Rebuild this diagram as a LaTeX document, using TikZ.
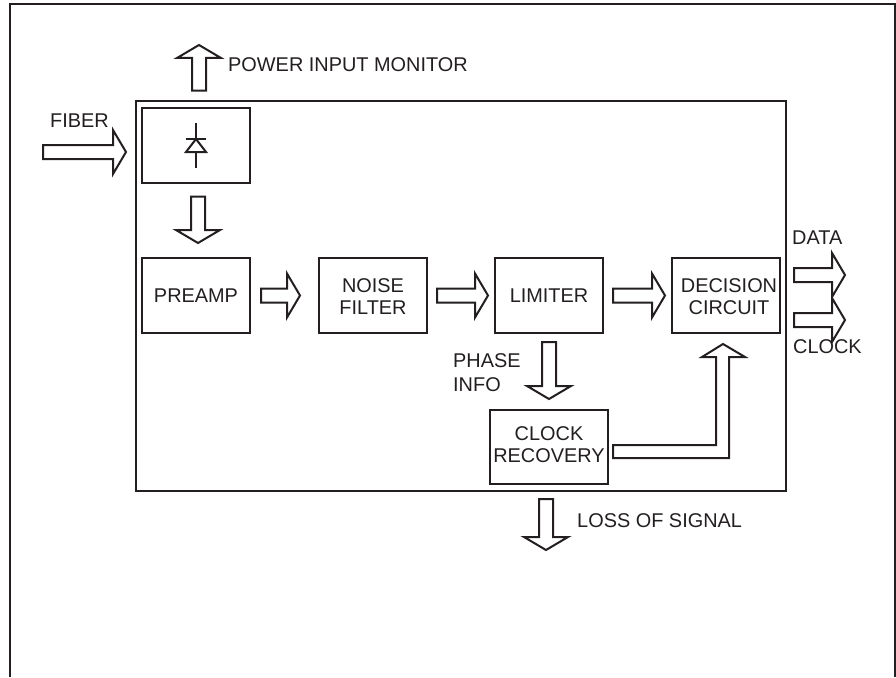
\documentclass[tikz,border=0pt]{standalone}
\usepackage{fontspec}
\setmainfont{Liberation Sans}
\usetikzlibrary{calc}
\definecolor{ink}{HTML}{231F20}
\tikzset{
    block/.style={draw=ink, line width=2pt, minimum width=108pt, minimum height=75pt, inner sep=0pt, outer sep=0pt, align=center, text=ink, font=\fontsize{19.9}{22}\selectfont},
    block text/.style={inner sep=0pt, align=center, text=ink, font=\fontsize{19.9}{22}\selectfont},
    label text/.style={anchor=base west, inner sep=0pt, text=ink, align=left, font=\fontsize{19.9}{23.5}\selectfont},
    outline/.style={draw=ink, line width=2pt, line join=miter},
    hollow/.style={outline, to path={
        let \p3=($(\tikztotarget)!13pt!(\tikztostart)$) in
        ($(\tikztostart)!7pt!90:(\tikztotarget)$) -- ($(\p3)!7pt!90:(\tikztotarget)$) -- ($(\p3)!22pt!90:(\tikztotarget)$) -- (\tikztotarget) -- ($(\p3)!22pt!-90:(\tikztotarget)$) -- ($(\p3)!7pt!-90:(\tikztotarget)$) -- ($(\tikztostart)!7pt!-90:(\tikztotarget)$) -- cycle}},
}
\begin{document}
\begin{tikzpicture}[x=1pt, y=-1pt]
    \useasboundingbox (0,0) rectangle (896,677);
    % frame, open at the bottom
    \draw[outline] (9.5,677) -- (9.5,4) -- (894.5,4) -- (894.5,677);
    \node[block, minimum width=650pt, minimum height=390pt] (main) at (461,296) {};
    \node[block] (diode) at (196,145) {};
    \node[block] (preamp) at (196,295.5) {PREAMP};
    \node[block] (filter) at (373,295.5) {};
    \node[block] (limiter) at (549,295.5) {LIMITER};
    \node[block] (decision) at (726,295.5) {};
    \node[block, minimum width=118pt, minimum height=74pt] (recovery) at (549,447) {};
    \node[block text] (filtertext) at ([shift={(0,1)}]filter.center) {NOISE\\FILTER};
    \node[block text] (decisiontext) at ([shift={(3,1)}]decision.center) {DECISION\\CIRCUIT};
    \node[block text] (recoverytext) at ([shift={(0,-2)}]recovery.center) {CLOCK\\RECOVERY};
    % diode symbol
    \draw[outline] ([shift={(0,-22)}]diode.center) -- ([shift={(0,-6)}]diode.center);
    \draw[outline] ([shift={(0,7)}]diode.center) -- ([shift={(0,23)}]diode.center);
    \draw[outline] ([shift={(-10,-6)}]diode.center) -- ([shift={(10,-6)}]diode.center);
    \draw[outline] ([shift={(0,-6)}]diode.center) -- ([shift={(10,7)}]diode.center) -- ([shift={(-10,7)}]diode.center) -- cycle;
    % free ends
    \coordinate (fiberin) at (43,152);
    \coordinate (powerout) at (199,45);
    \coordinate (dataout) at (845,275);
    \coordinate (clockout) at (845,320);
    \coordinate (lossout) at (546,550);
    % arrows
    \draw[hollow] (fiberin) to ([shift={(-10,7)}]main.west |- diode.center);
    \draw[hollow] ([shift={(3,-17)}]diode.north) to (powerout);
    \draw[hollow] ([shift={(2,14)}]diode.south) to ([shift={(2,-15)}]preamp.north);
    \draw[hollow] ([xshift=11pt]preamp.east) to ([xshift=-19pt]filter.west);
    \draw[hollow] ([xshift=10pt]filter.east) to ([xshift=-7pt]limiter.west);
    \draw[hollow] ([xshift=10pt]limiter.east) to ([xshift=-7pt]decision.west);
    \draw[hollow] ([shift={(0,9)}]limiter.south) to ([shift={(0,-11)}]recovery.north);
    \draw[hollow] ([shift={(8,-21)}]main.east) to (dataout);
    \draw[hollow] ([shift={(8,24)}]main.east) to (clockout);
    \draw[hollow] ([shift={(0,8)}]lossout |- main.south) to (lossout);
    \draw[outline] ([shift={(5,-2)}]recovery.east) -- ++(103,0) -- ++(0,-88) -- ++(-14,0) -- ([shift={(-3,11)}]decision.south) -- ([shift={(19,24)}]decision.south) -- ++(-16,0) -- ++(0,101) -- ++(-116,0) -- cycle;
    % labels
    \node[label text] (fiberlabel) at (50,127.5) {FIBER};
    \node[label text] (powerlabel) at (228,71) {POWER INPUT MONITOR};
    \node[label text] (datalabel) at (792,244) {DATA};
    \node[label text] (clocklabel) at (793,353) {CLOCK};
    \node[label text] (phaselabel) at (453,391) {PHASE\\INFO};
    \node[label text] (losslabel) at (577,527) {LOSS OF SIGNAL};
\end{tikzpicture}
\end{document}
